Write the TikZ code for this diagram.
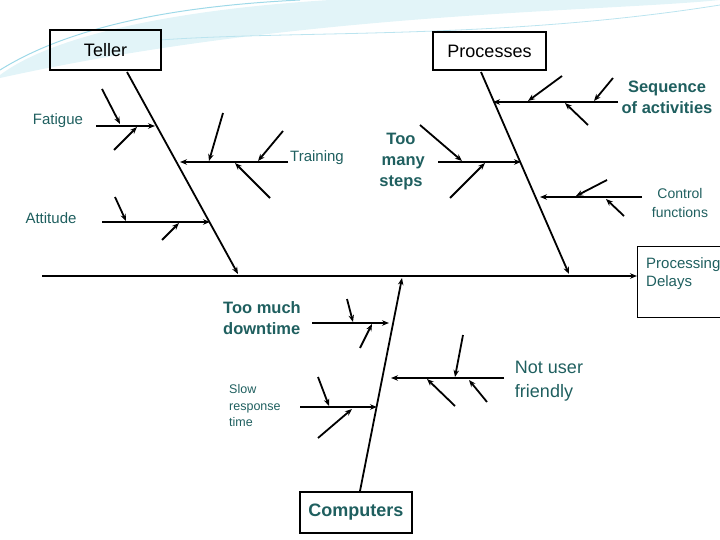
\documentclass[tikz,border=0pt]{standalone}
\usepackage{fontspec}
\setmainfont{Liberation Sans}
\usetikzlibrary{arrows.meta}
\definecolor{teal}{HTML}{1F5F5F}
\definecolor{sky}{HTML}{9ED9E8}
\newcounter{bn}
\newcommand{\bone}[4]{\stepcounter{bn}%
  \coordinate (s\thebn) at (#1,#2); \coordinate (e\thebn) at (#3,#4);
  \draw[ln] (s\thebn) -- (e\thebn);}
\begin{document}
\begin{tikzpicture}[x=1pt,y=-1pt,
  ln/.style={line width=1.8pt,-{Stealth[length=7pt,width=5.5pt]}},
  box/.style={draw,line width=1.3pt,minimum width=#1,minimum height=40pt,inner sep=0pt,font=\fontsize{18}{20}\selectfont},
  lab/.style={text=teal,font=\fontsize{15}{18}\selectfont,align=center,inner sep=0pt},
  blab/.style={lab,font=\fontsize{16.5}{21}\selectfont\bfseries}]
\useasboundingbox (0,0) rectangle (720,540);
% decorative swoosh
\fill[sky!30] (0,75) .. controls (60,30) and (200,8) .. (330,0) -- (720,0) .. controls (600,12) and (300,12) .. (0,78) -- cycle;
\draw[sky,line width=1pt] (0,70) .. controls (80,20) and (200,5) .. (300,0);
\draw[sky!70,line width=0.8pt] (160,40) .. controls (300,30) and (500,40) .. (720,5);
% boxes
\node[box=111pt] (teller) at (105.5,50) {Teller};
\node[box=113pt,minimum height=38pt] (proc) at (489.5,51) {Processes};
\node[box=112pt,minimum height=41pt] (comp) at (356,512.5) {\bfseries\color{teal}Computers};
\node[draw,line width=1.3pt,minimum width=90pt,minimum height=71pt,anchor=north west,inner sep=0pt] (pd) at (637,246) {};
\node[lab,align=left,anchor=north west] at (646,257) {Processing\\Delays};
% spine
\coordinate (sp) at (42,276);
\draw[ln] (sp) -- (pd.west|-sp);
% major bones
\coordinate (t1) at (127,72); \coordinate (t2) at (238,274);
\draw[ln] (t1) -- (t2);
\coordinate (p1) at (481,72); \coordinate (p2) at (569,274);
\draw[ln] (p1) -- (p2);
\coordinate (c1) at (360,491); \coordinate (c2) at (402,278);
\draw[ln] (c1) -- (c2);
% Fatigue
\bone{96}{126}{155}{126}\bone{102}{89}{120}{124}\bone{114}{150}{137}{127}
% Training
\bone{288}{162}{180}{162}\bone{223}{113}{209}{161}\bone{283}{131}{258}{161}\bone{270}{198}{235}{163}
% Attitude
\bone{102}{222}{210}{222}\bone{115}{197}{126}{221}\bone{162}{240}{179}{223}
% Sequence
\bone{618}{102}{493}{102}\bone{562}{76}{528}{101}\bone{613}{78}{594}{101}\bone{588}{125}{565}{103}
% Too many steps
\bone{438}{162}{521}{162}\bone{420}{125}{462}{161}\bone{450}{198}{485}{163}
% Control
\bone{642}{197}{540}{197}\bone{607}{180}{576}{196}\bone{624}{216}{606}{199}
% Too much downtime
\bone{312}{323}{389}{323}\bone{347}{299}{353}{322}\bone{360}{348}{372}{324}
% Not user friendly
\bone{504}{378}{391}{378}\bone{463}{335}{455}{377}\bone{455}{406}{427}{379}\bone{487}{402}{469}{380}
% Slow response
\bone{300}{407}{377}{407}\bone{318}{377}{329}{406}\bone{318}{438}{352}{409}
% labels
\node[lab] (lf) at (58,121) {Fatigue};
\node[lab] (lt) at (317,158) {Training};
\node[lab] (la) at (51,218) {Attitude};
\node[blab] (ls) at (667,97) {Sequence\\of activities};
\node[blab] (lm) at (401,162) {Too\\\ many\\steps};
\node[lab,font=\fontsize{14}{19}\selectfont] (lc) at (680,203) {Control\\functions};
\node[blab,align=left] (ld) at (262,318) {Too much\\downtime};
\node[lab,align=left,anchor=west,font=\fontsize{12.5}{16.5}\selectfont] (lr) at (229,406) {Slow\\response\\time};
\node[lab,align=left,font=\fontsize{18}{24}\selectfont] (ln) at (549,381) {Not user\\friendly};
\end{tikzpicture}
\end{document}
